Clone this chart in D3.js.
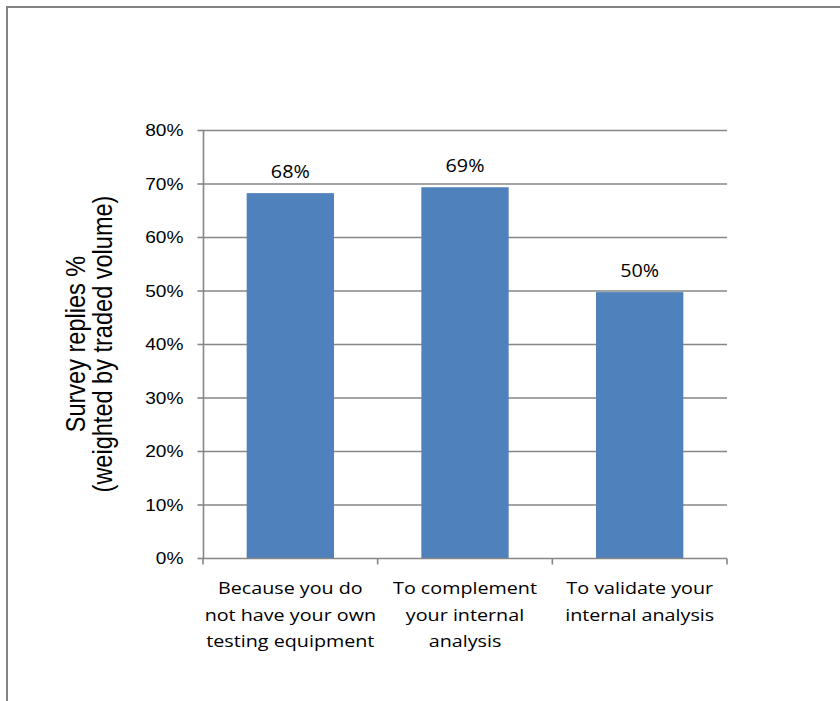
<!DOCTYPE html>
<html><head><meta charset="utf-8">
<script src="https://cdn.jsdelivr.net/npm/d3@7"></script>
<style>body{margin:0;background:#fff}svg{display:block}</style>
</head><body>
<svg id="c" width="840" height="701"></svg>
<script>
const categories = [
  ["Because you do", "not have your own", "testing equipment"],
  ["To complement", "your internal", "analysis"],
  ["To validate your", "internal analysis"]
];
const values = [68.2, 69.3, 49.7];
const yTicks = [0, 10, 20, 30, 40, 50, 60, 70, 80];
const yTitle = ["Survey replies %", "(weighted by traded volume)"];

(function () {
const svg = d3.select("#c");
const arial = "Liberation Sans, Arial, sans-serif";
const calibri = "Open Sans, Lato, sans-serif";

svg.append("rect").attr("x", 7).attr("y", 7).attr("width", 900).attr("height", 800)
  .attr("fill", "#fff").attr("stroke", "#828282").attr("stroke-width", 2);

const pl = 203, pr = 727, pt = 130, pb = 558;
const x = d3.scaleBand().domain(d3.range(categories.length)).range([pl, pr]).paddingInner(0.5).paddingOuter(0.25);
const y = d3.scaleLinear().domain([0, 80]).range([pb, pt]);

svg.append("g").selectAll("line").data(yTicks.filter(d => d > 0)).join("line")
  .attr("x1", pl).attr("x2", pr).attr("y1", d => y(d) + 0.5).attr("y2", d => y(d) + 0.5)
  .attr("stroke", "#868686").attr("stroke-width", 1.6);

const ya = svg.append("g").attr("transform", `translate(${pl + 0.5},0)`)
  .call(d3.axisLeft(y).tickValues(yTicks).tickSize(6).tickFormat(d => d + "%"));
ya.selectAll("path,line").attr("stroke", "#868686").attr("stroke-width", 1.6);
ya.select(".domain").attr("d", `M0,${pt}V${pb}`);
ya.selectAll(".tick text").attr("x", 0).attr("dy", "0.36em")
  .attr("transform", `translate(-20,0) scale(1.16,1)`)
  .attr("font-family", arial).attr("font-size", 16.5).attr("fill", "#000");

svg.append("g").selectAll("rect").data(values).join("rect")
  .attr("x", (d, i) => x(i)).attr("width", x.bandwidth())
  .attr("y", d => y(d)).attr("height", d => y(0) - y(d))
  .attr("fill", "#4F81BD");

const xa = svg.append("g").attr("transform", `translate(0,${pb + 0.5})`);
xa.append("line").attr("x1", pl).attr("x2", pr).attr("stroke", "#868686").attr("stroke-width", 1.6);
const step = x.step();
xa.selectAll("line.t").data(d3.range(categories.length + 1)).join("line").attr("class", "t")
  .attr("x1", i => pl + i * step).attr("x2", i => pl + i * step).attr("y1", 0).attr("y2", 6)
  .attr("stroke", "#868686").attr("stroke-width", 1.6);

const lab = svg.append("g").attr("font-family", calibri).attr("font-size", 17).attr("fill", "#000").attr("text-anchor", "middle");
categories.forEach((lines, i) => {
  const cx = x(i) + x.bandwidth() / 2;
  const t = lab.append("text").attr("transform", `translate(${cx},594) scale(1.16,1)`);
  lines.forEach((s, j) => t.append("tspan").attr("x", 0).attr("y", j * 26.7).text(s));
});

svg.append("g").selectAll("text").data(values).join("text")
  .attr("transform", (d, i) => `translate(${x(i) + x.bandwidth() / 2},${y(d) - 15.5}) scale(1.13,1)`)
  .attr("text-anchor", "middle").attr("font-family", calibri).attr("font-size", 17.5)
  .text(d => d3.format(".0f")(d) + "%");

const yt = svg.append("text").attr("transform", `translate(91.5,${(pt + pb) / 2}) rotate(-90) scale(1.07,1.22)`)
  .attr("text-anchor", "middle").attr("font-family", arial).attr("font-size", 22);
yTitle.forEach((s, j) => yt.append("tspan").attr("x", 0).attr("y", j ? 17 : -5).text(s));
})();
</script>
</body></html>
